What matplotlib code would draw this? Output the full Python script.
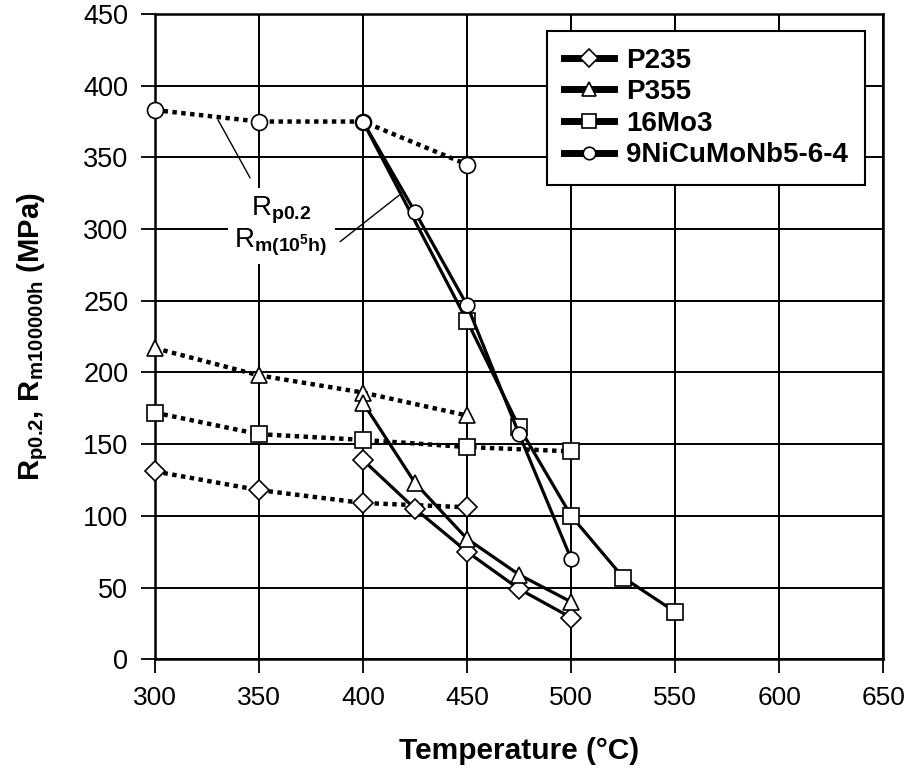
import matplotlib
matplotlib.use("Agg")
import matplotlib.pyplot as plt
from matplotlib.lines import Line2D

plt.rcParams['font.family'] = ['Liberation Sans', 'DejaVu Sans']
plt.rcParams['mathtext.fontset'] = 'custom'
plt.rcParams['mathtext.rm'] = 'Liberation Sans'
plt.rcParams['mathtext.bf'] = 'Liberation Sans:bold'
plt.rcParams['mathtext.it'] = 'Liberation Sans:italic'

# ---- data ----
temps_rp = [300, 350, 400, 450]
temps_rp_mo = [300, 350, 400, 450, 500]
p235_rp = [131, 118, 109, 106]
p355_rp = [217, 198, 186, 170]
mo3_rp = [172, 157, 153, 148, 145]
ni_rp = [383, 375, 375, 345]

temps_rm = [400, 425, 450, 475, 500]
temps_rm_mo = [400, 450, 475, 500, 525, 550]
p235_rm = [139, 105, 75, 49, 29]
p355_rm = [179, 123, 84, 59, 40]
mo3_rm = [375, 236, 162, 100, 57, 33]
ni_rm = [375, 312, 247, 157, 70]

series_names = ['P235', 'P355', '16Mo3', '9NiCuMoNb5-6-4']
x_ticks = [300, 350, 400, 450, 500, 550, 600, 650]
y_ticks = [0, 50, 100, 150, 200, 250, 300, 350, 400, 450]

fig = plt.figure(figsize=(9.08, 7.69), dpi=100)
ax = fig.add_axes([0.1704, 0.1427, 0.8026, 0.8391])

ax.set_xlim(300, 650)
ax.set_ylim(0, 450)
ax.set_xticks(x_ticks)
ax.set_yticks(y_ticks)
ax.grid(True, color='black', lw=1.4, zorder=0)
ax.set_axisbelow(True)
for s in ax.spines.values():
    s.set_linewidth(1.8)

ax.tick_params(axis='both', direction='out', length=10, width=1.3, top=False, right=False)
ax.tick_params(axis='y', labelsize=19.5, pad=9)
ax.tick_params(axis='x', labelsize=19, pad=9)

dot = dict(color='black', lw=3.2, linestyle=(0, (1.0, 1.0)), dash_capstyle='butt', zorder=3, clip_on=False)
sol = dict(color='black', lw=2.3, linestyle='-', zorder=3, clip_on=False)
mk = dict(markerfacecolor='white', markeredgecolor='black', markeredgewidth=1.2)

# Rp0.2 dotted
ax.plot(temps_rp, p235_rp, marker='D', ms=10, **dot, **mk)
ax.plot(temps_rp, p355_rp, marker='^', ms=12, **dot, **mk)
ax.plot(temps_rp_mo, mo3_rp, marker='s', ms=11, **dot, **mk)
ax.plot(temps_rp, ni_rp, marker='o', ms=11.5, **dot, **mk)

# Rm solid
ax.plot(temps_rm, p235_rm, marker='D', ms=10, **sol, **mk)
ax.plot(temps_rm, p355_rm, marker='^', ms=12, **sol, **mk)
ax.plot(temps_rm_mo, mo3_rm, marker='s', ms=11, markevery=list(range(1, len(temps_rm_mo))), **sol, **mk)
ax.plot(temps_rm, ni_rm, marker='o', ms=10.5, **sol, **mk)

# annotation text
ax.text(360.7, 302.0, r'R$_{\mathbf{p0.2}}$' + '\n' + r'R$_{\mathbf{m(10}^{\mathbf{5}}\mathbf{h)}}$',
        ha='center', va='center', multialignment='center', fontsize=20, linespacing=1.0,
        bbox=dict(facecolor='white', edgecolor='none', pad=5), zorder=4)
ax.annotate('', xy=(330.4, 376.2), xytext=(345.8, 335.7),
            arrowprops=dict(arrowstyle='-', lw=1.0, color='black', shrinkA=0, shrinkB=0), zorder=5)
ax.annotate('', xy=(418.6, 325.0), xytext=(389.0, 291.2),
            arrowprops=dict(arrowstyle='-', lw=1.0, color='black', shrinkA=0, shrinkB=0), zorder=5)

# legend
markers = ['D', '^', 's', 'o']
msizes = [9, 10, 9.5, 9]
handles = [Line2D([0], [0], color='black', lw=5, marker=m, ms=s, **mk) for m, s in zip(markers, msizes)]
leg = ax.legend(handles, series_names, loc='upper right', bbox_to_anchor=(0.9746, 0.9737),
                borderaxespad=0, fancybox=False, framealpha=1, edgecolor='black',
                prop=dict(weight='bold', size=20), handlelength=1.8, handletextpad=0.45,
                labelspacing=0.2, borderpad=0.6)
leg.get_frame().set_linewidth(1.5)
leg.set_zorder(6)

ax.set_xlabel('Temperature (°C)', fontsize=21.5, fontweight='bold', labelpad=20)
ax.set_ylabel(r'$\mathbf{R_{p0.2},\,R_{m100000h}}$' + ' (MPa)', fontsize=21, fontweight='bold', labelpad=24)

fig.savefig('out.png', dpi=100)
